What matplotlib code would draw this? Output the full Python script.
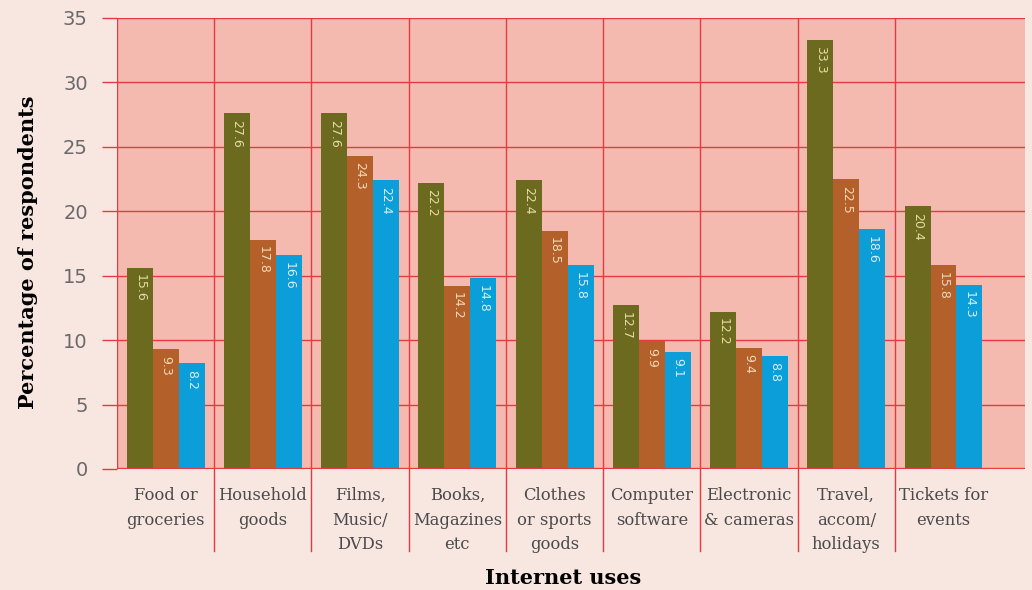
import numpy as np
import matplotlib
matplotlib.use("Agg")
import matplotlib.pyplot as plt
from matplotlib.transforms import blended_transform_factory

categories = ["Food or\ngroceries", "Household\ngoods", "Films,\nMusic/\nDVDs",
              "Books,\nMagazines\netc", "Clothes\nor sports\ngoods", "Computer\nsoftware",
              "Electronic\n& cameras", "Travel,\naccom/\nholidays", "Tickets for\nevents"]
series_a = [15.6, 27.6, 27.6, 22.2, 22.4, 12.7, 12.2, 33.3, 20.4]
series_b = [9.3, 17.8, 24.3, 14.2, 18.5, 9.9, 9.4, 22.5, 15.8]
series_c = [8.2, 16.6, 22.4, 14.8, 15.8, 9.1, 8.8, 18.6, 14.3]
y_ticks = [0, 5, 10, 15, 20, 25, 30, 35]

fig_bg = "#f8e6e1"
plot_bg = "#f4bab0"
grid_red = "#e63a42"
bar_colors = ["#6b6a1f", "#b4602a", "#0c9ed8"]
label_colors = ["#e4dda4", "#f2d9b6", "#d6eef8"]

fig = plt.figure(figsize=(10.32, 5.90), dpi=100, facecolor=fig_bg)
ax = fig.add_axes([0.1134, 0.2051, 0.880, 0.7644], facecolor=plot_bg)

x = np.arange(len(categories))
w = 0.267
for k, vals in enumerate([series_a, series_b, series_c]):
    pos = x + (k - 1) * w
    ax.bar(pos, vals, width=w, color=bar_colors[k], zorder=3)
    for px, v in zip(pos, vals):
        ax.text(px, v - 0.5, f"{v}", rotation=270, ha="center", va="top",
                fontsize=9, color=label_colors[k], zorder=4)

ax.set_xlim(-0.5, 8.84)
ax.set_ylim(0, 35)

# red grid: horizontal at each tick, vertical between categories
for yv in y_ticks[1:]:
    ax.axhline(yv, color=grid_red, lw=1.0, zorder=1)
for xv in np.arange(-0.5, 8, 1.0):
    ax.axvline(xv, color=grid_red, lw=1.0, zorder=1)
ax.axhline(0, color=grid_red, lw=2.4, zorder=5)

# separators continue down through the category labels
trans = blended_transform_factory(ax.transData, ax.transAxes)
for xv in np.arange(0.5, 8, 1.0):
    ax.plot([xv, xv], [0, -0.182], transform=trans, color=grid_red, lw=1.0,
            clip_on=False, zorder=1)

for s in ax.spines.values():
    s.set_visible(False)

ax.set_yticks(y_ticks)
ax.set_yticklabels([str(t) for t in y_ticks], fontsize=14, color="#6a6a6a",
                   family="DejaVu Sans")
ax.tick_params(axis="y", length=11, width=1.0, color=grid_red, pad=10)
ax.set_xticks([])

for xi, name in zip(x, categories):
    ax.text(xi, -0.04, name, transform=trans, ha="center", va="top",
            fontsize=11.8, color="#4a4a4a", family="DejaVu Serif", linespacing=1.58)

fig.text(0.027, 0.573, "Percentage of respondents", rotation=90, ha="center",
         va="center", fontsize=15, fontweight="bold", family="DejaVu Serif")
fig.text(0.546, 0.02, "Internet uses", ha="center", va="center",
         fontsize=15, fontweight="bold", family="DejaVu Serif")

fig.savefig("out.png", dpi=100, facecolor=fig_bg)
